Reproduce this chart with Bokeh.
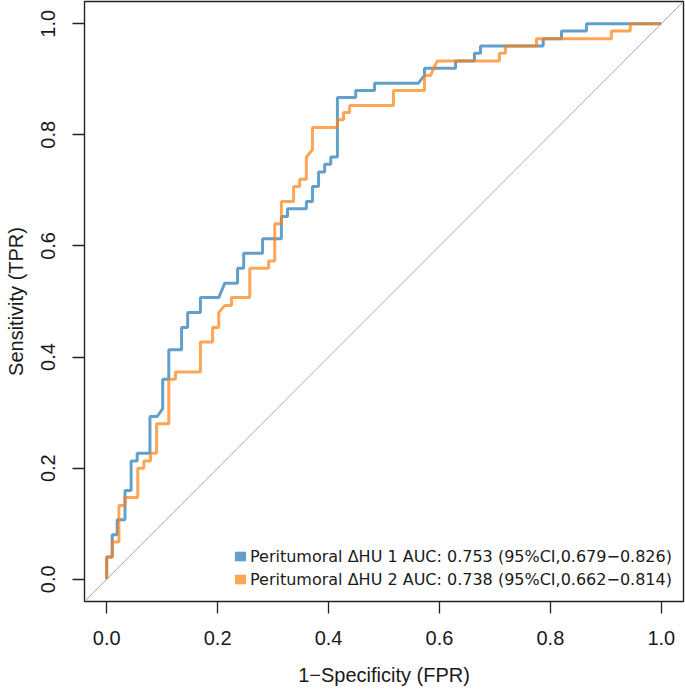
from bokeh.plotting import figure
from bokeh.models import FixedTicker, Slope, Legend, LegendItem
from bokeh.embed import file_html
from bokeh.resources import INLINE

# ROC step paths (FPR = 1-Specificity, TPR = Sensitivity)
fpr1 = [0, 0, 0.010, 0.010, 0.019, 0.019, 0.033, 0.033, 0.044, 0.044, 0.055, 0.055,
        0.078, 0.078, 0.091, 0.101, 0.101, 0.112, 0.112, 0.135, 0.135, 0.146, 0.146,
        0.169, 0.169, 0.202, 0.213, 0.236, 0.236, 0.247, 0.247, 0.281, 0.281, 0.315,
        0.315, 0.326, 0.326, 0.360, 0.360, 0.371, 0.371, 0.382, 0.382, 0.393, 0.393,
        0.404, 0.404, 0.416, 0.416, 0.449, 0.449, 0.483, 0.483, 0.562, 0.573, 0.573,
        0.629, 0.629, 0.663, 0.663, 0.674, 0.674, 0.787, 0.787, 0.820, 0.820, 0.865,
        0.865, 1.0]
tpr1 = [0, 0.040, 0.040, 0.080, 0.080, 0.107, 0.107, 0.160, 0.160, 0.213, 0.213, 0.227,
        0.227, 0.293, 0.293, 0.307, 0.360, 0.360, 0.413, 0.413, 0.453, 0.453, 0.480,
        0.480, 0.507, 0.507, 0.533, 0.533, 0.560, 0.560, 0.587, 0.587, 0.613, 0.613,
        0.653, 0.653, 0.667, 0.667, 0.680, 0.680, 0.707, 0.707, 0.733, 0.733, 0.747,
        0.747, 0.760, 0.760, 0.867, 0.867, 0.880, 0.880, 0.893, 0.893, 0.907, 0.920,
        0.920, 0.933, 0.933, 0.947, 0.947, 0.960, 0.960, 0.973, 0.973, 0.987, 0.987,
        1.0, 1.0]

fpr2 = [0, 0, 0.010, 0.010, 0.022, 0.022, 0.033, 0.033, 0.056, 0.056, 0.067, 0.067,
        0.079, 0.079, 0.090, 0.090, 0.112, 0.112, 0.124, 0.124, 0.169, 0.169, 0.191,
        0.191, 0.202, 0.202, 0.213, 0.225, 0.225, 0.258, 0.258, 0.292, 0.292, 0.303,
        0.303, 0.315, 0.315, 0.337, 0.337, 0.348, 0.348, 0.360, 0.360, 0.371, 0.371,
        0.416, 0.416, 0.427, 0.427, 0.438, 0.438, 0.517, 0.517, 0.573, 0.573, 0.584,
        0.596, 0.708, 0.708, 0.719, 0.719, 0.775, 0.775, 0.910, 0.910, 0.944, 0.944,
        1.0]
tpr2 = [0, 0.040, 0.040, 0.067, 0.067, 0.133, 0.133, 0.147, 0.147, 0.200, 0.200, 0.213,
        0.213, 0.227, 0.227, 0.280, 0.280, 0.360, 0.360, 0.373, 0.373, 0.427, 0.427,
        0.453, 0.453, 0.480, 0.493, 0.493, 0.507, 0.507, 0.560, 0.560, 0.573, 0.573,
        0.640, 0.640, 0.680, 0.680, 0.707, 0.707, 0.720, 0.720, 0.760, 0.773, 0.813,
        0.813, 0.827, 0.827, 0.840, 0.840, 0.853, 0.853, 0.880, 0.880, 0.907, 0.907,
        0.933, 0.933, 0.947, 0.947, 0.960, 0.960, 0.973, 0.973, 0.987, 0.987, 1.0,
        1.0]

series_labels = ["Peritumoral \u0394HU 1 AUC: 0.753 (95%CI,0.679\u22120.826)",
                 "Peritumoral \u0394HU 2 AUC: 0.738 (95%CI,0.662\u22120.814)"]
series_colors = ["#1f77b4", "#ff7f0e"]
tick_values = [0, 0.2, 0.4, 0.6, 0.8, 1.0]
tick_labels = ["0.0", "0.2", "0.4", "0.6", "0.8", "1.0"]
x_title = "1\u2212Specificity (FPR)"
y_title = "Sensitivity (TPR)"

FONT = "Liberation Sans"
INK = "#1a1a1a"
NAN = float("nan")

p = figure(frame_width=599, frame_height=600,
           x_range=(-0.04, 1.04), y_range=(-0.04, 1.04),
           output_backend="svg", toolbar_location=None,
           min_border_left=84, min_border_right=2,
           min_border_top=1, min_border_bottom=88)
p.background_fill_color = "white"
p.border_fill_color = "white"
p.grid.visible = False
p.outline_line_color = "#222222"
p.outline_line_width = 1.4
p.outline_line_alpha = 1.0

for ax in (p.xaxis[0], p.yaxis[0]):
    ax.ticker = FixedTicker(ticks=tick_values)
    ax.major_label_overrides = {v: s for v, s in zip(tick_values, tick_labels)}
    ax.major_tick_out = 12
    ax.major_tick_in = 0
    ax.minor_tick_out = 0
    ax.minor_tick_in = 0
    ax.major_tick_line_color = "#222222"
    ax.major_tick_line_width = 1.3
    ax.axis_line_color = None
    ax.major_label_text_font = FONT
    ax.major_label_text_font_size = "20px"
    ax.major_label_text_color = INK
    ax.axis_label_text_font = FONT
    ax.axis_label_text_font_size = "20px"
    ax.axis_label_text_font_style = "normal"
    ax.axis_label_text_color = INK

p.xaxis[0].axis_label = x_title
p.xaxis[0].major_label_standoff = 17
p.xaxis[0].axis_label_standoff = 16
p.yaxis[0].axis_label = y_title
p.yaxis[0].major_label_orientation = "vertical"
p.yaxis[0].major_label_standoff = 17
p.yaxis[0].axis_label_standoff = 12

p.add_layout(Slope(gradient=1, y_intercept=0, line_color="#aaaaaa", line_width=1))

p.line(fpr1, tpr1, line_color=series_colors[0], line_alpha=0.7, line_width=3)
p.line(fpr2, tpr2, line_color=series_colors[1], line_alpha=0.7, line_width=3)

items = []
for lab, col in zip(series_labels, series_colors):
    r = p.quad(left=[NAN], right=[NAN], top=[NAN], bottom=[NAN], fill_color=col,
               fill_alpha=0.7, line_color=None)
    items.append(LegendItem(label=lab, renderers=[r]))

legend = Legend(items=items, location=(149, 12), padding=0, margin=0,
                border_line_color=None, background_fill_alpha=0,
                glyph_width=14, glyph_height=12, label_standoff=3,
                label_text_font="DejaVu Sans", label_text_font_size="16px",
                label_text_color=INK, label_height=20, spacing=3)
p.add_layout(legend)

open("out.html", "w").write(file_html(p, INLINE))
